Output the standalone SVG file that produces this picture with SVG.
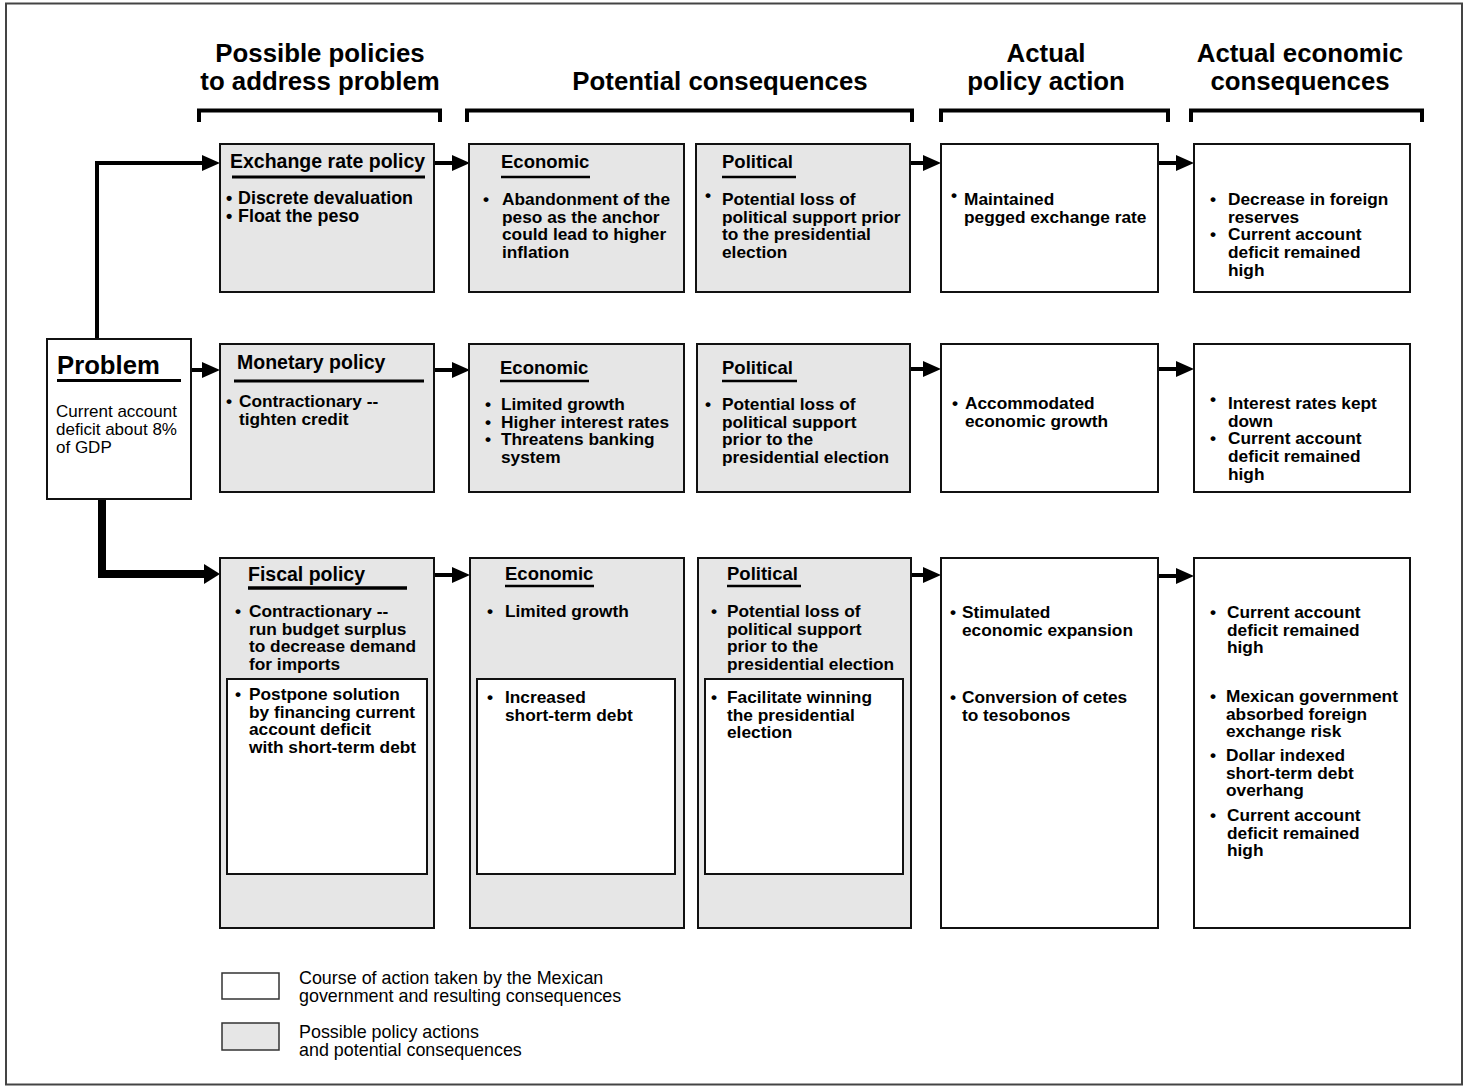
<svg xmlns="http://www.w3.org/2000/svg" width="1468" height="1089" viewBox="0 0 1468 1089">
<style>
text{font-family:"Liberation Sans",Arial,Helvetica,sans-serif;fill:#000}
.hdr{font-size:25.8px;font-weight:bold;text-anchor:middle}
.ttl{font-size:19.5px;font-weight:bold}
.sub{font-size:18.5px;font-weight:bold}
.b{font-size:17.3px;font-weight:bold}
.bx{font-size:17.9px;font-weight:bold}
.r{font-size:17px}
.lg{font-size:17.9px}
.prob{font-size:25.7px;font-weight:bold}
.g{fill:#e6e6e6;stroke:#111;stroke-width:2}
.w{fill:#fff;stroke:#111;stroke-width:2}
.ul{stroke:#000;stroke-width:2.5}
.br{fill:none;stroke:#000;stroke-width:4}
.cn{fill:none;stroke:#000;stroke-width:4}
.ah{fill:#000}
</style>
<rect x="6" y="3.5" width="1456" height="1081" fill="#fff" stroke="#444" stroke-width="2"/>

<g id="headers">
<text class="hdr" x="320" y="62">Possible policies</text>
<text class="hdr" x="320" y="90">to address problem</text>
<text class="hdr" x="720" y="90">Potential consequences</text>
<text class="hdr" x="1046" y="62">Actual</text>
<text class="hdr" x="1046" y="90">policy action</text>
<text class="hdr" x="1300" y="62">Actual economic</text>
<text class="hdr" x="1300" y="90">consequences</text>
<path class="br" d="M199 122V110.5H440V122"/>
<path class="br" d="M467 122V110.5H912V122"/>
<path class="br" d="M941 122V110.5H1168V122"/>
<path class="br" d="M1191 122V110.5H1422V122"/>
</g>

<g id="connectors">
<path class="cn" d="M97 339V163H206"/>
<polygon class="ah" points="202,155 220,163 202,171"/>
<line class="cn" x1="434" y1="163" x2="456" y2="163"/>
<polygon class="ah" points="452,155 470,163 452,171"/>
<line class="cn" x1="909" y1="163" x2="927" y2="163"/>
<polygon class="ah" points="923,155 941,163 923,171"/>
<line class="cn" x1="1158" y1="163" x2="1180" y2="163"/>
<polygon class="ah" points="1176,155 1194,163 1176,171"/>

<line class="cn" x1="191" y1="370" x2="206" y2="370"/>
<polygon class="ah" points="202,362 220,370 202,378"/>
<line class="cn" x1="434" y1="370" x2="456" y2="370"/>
<polygon class="ah" points="452,362 470,370 452,378"/>
<line class="cn" x1="910" y1="369" x2="927" y2="369"/>
<polygon class="ah" points="923,361 941,369 923,377"/>
<line class="cn" x1="1158" y1="369" x2="1180" y2="369"/>
<polygon class="ah" points="1176,361 1194,369 1176,377"/>

<path fill="none" stroke="#000" stroke-width="8" d="M102 499V574H208"/>
<polygon class="ah" points="204,564 220,574 204,584"/>
<line class="cn" x1="434" y1="575" x2="456" y2="575"/>
<polygon class="ah" points="452,567 470,575 452,583"/>
<line class="cn" x1="911" y1="575" x2="927" y2="575"/>
<polygon class="ah" points="923,567 941,575 923,583"/>
<line class="cn" x1="1158" y1="576" x2="1180" y2="576"/>
<polygon class="ah" points="1176,568 1194,576 1176,584"/>
</g>

<g id="problem">
<rect class="w" x="47" y="339" width="144" height="160"/>
<text class="prob" x="57" y="374">Problem</text>
<line x1="57" y1="380.5" x2="181" y2="380.5" stroke="#000" stroke-width="3"/>
<text class="r" x="56" y="417">Current account</text>
<text class="r" x="56" y="435">deficit about 8%</text>
<text class="r" x="56" y="453">of GDP</text>
</g>

<g id="exchange-rate-policy">
<rect class="g" x="220" y="144" width="214" height="148"/>
<text class="ttl" x="230" y="168">Exchange rate policy</text>
<line x1="232" y1="177" x2="425" y2="177" stroke="#000" stroke-width="3"/>
<text class="bx" x="226" y="203.5">•</text><text class="bx" x="238" y="203.5">Discrete devaluation</text>
<text class="bx" x="226" y="221.5">•</text><text class="bx" x="238" y="221.5">Float the peso</text>
</g>

<g id="econ-1">
<rect class="g" x="469" y="144" width="215" height="148"/>
<text class="sub" x="501" y="168">Economic</text>
<line class="ul" x1="501" y1="177" x2="590" y2="177"/>
<text class="b" x="483" y="205">•</text>
<text class="b" x="502" y="205">Abandonment of the</text>
<text class="b" x="502" y="222.7">peso as the anchor</text>
<text class="b" x="502" y="240.4">could lead to higher</text>
<text class="b" x="502" y="258">inflation</text>
</g>

<g id="pol-1">
<rect class="g" x="696" y="144" width="214" height="148"/>
<text class="sub" x="722" y="168">Political</text>
<line class="ul" x1="722" y1="177" x2="796" y2="177"/>
<text class="b" x="705" y="201">•</text>
<text class="b" x="722" y="205">Potential loss of</text>
<text class="b" x="722" y="222.7">political support prior</text>
<text class="b" x="722" y="240.4">to the presidential</text>
<text class="b" x="722" y="258">election</text>
</g>

<g id="action-1">
<rect class="w" x="941" y="144" width="217" height="148"/>
<text class="b" x="951" y="201">•</text>
<text class="b" x="964" y="205">Maintained</text>
<text class="b" x="964" y="222.7">pegged exchange rate</text>
</g>

<g id="cons-1">
<rect class="w" x="1194" y="144" width="216" height="148"/>
<text class="b" x="1210" y="205">•</text>
<text class="b" x="1228" y="205">Decrease in foreign</text>
<text class="b" x="1228" y="222.7">reserves</text>
<text class="b" x="1210" y="240.4">•</text>
<text class="b" x="1228" y="240.4">Current account</text>
<text class="b" x="1228" y="258">deficit remained</text>
<text class="b" x="1228" y="275.7">high</text>
</g>

<g id="monetary-policy">
<rect class="g" x="220" y="344" width="214" height="148"/>
<text class="ttl" x="237" y="369">Monetary policy</text>
<line x1="234" y1="381" x2="424" y2="381" stroke="#000" stroke-width="3"/>
<text class="b" x="226" y="407">•</text>
<text class="b" x="239" y="407">Contractionary --</text>
<text class="b" x="239" y="424.7">tighten credit</text>
</g>

<g id="econ-2">
<rect class="g" x="469" y="344" width="215" height="148"/>
<text class="sub" x="500" y="374">Economic</text>
<line class="ul" x1="500" y1="381" x2="589" y2="381"/>
<text class="b" x="485" y="410">•</text><text class="b" x="501" y="410">Limited growth</text>
<text class="b" x="485" y="427.7">•</text><text class="b" x="501" y="427.7">Higher interest rates</text>
<text class="b" x="485" y="445.4">•</text><text class="b" x="501" y="445.4">Threatens banking</text>
<text class="b" x="501" y="463">system</text>
</g>

<g id="pol-2">
<rect class="g" x="697" y="344" width="213" height="148"/>
<text class="sub" x="722" y="374">Political</text>
<line class="ul" x1="722" y1="381" x2="797" y2="381"/>
<text class="b" x="705" y="410">•</text><text class="b" x="722" y="410">Potential loss of</text>
<text class="b" x="722" y="427.7">political support</text>
<text class="b" x="722" y="445.4">prior to the</text>
<text class="b" x="722" y="463">presidential election</text>
</g>

<g id="action-2">
<rect class="w" x="941" y="344" width="217" height="148"/>
<text class="b" x="952" y="409">•</text>
<text class="b" x="965" y="409">Accommodated</text>
<text class="b" x="965" y="426.7">economic growth</text>
</g>

<g id="cons-2">
<rect class="w" x="1194" y="344" width="216" height="148"/>
<text class="b" x="1210" y="405">•</text>
<text class="b" x="1228" y="409">Interest rates kept</text>
<text class="b" x="1228" y="426.7">down</text>
<text class="b" x="1210" y="444.4">•</text>
<text class="b" x="1228" y="444.4">Current account</text>
<text class="b" x="1228" y="462">deficit remained</text>
<text class="b" x="1228" y="479.7">high</text>
</g>

<g id="fiscal-policy">
<rect class="g" x="220" y="558" width="214" height="370"/>
<text class="ttl" x="248" y="581">Fiscal policy</text>
<line x1="248" y1="588" x2="407" y2="588" stroke="#000" stroke-width="3.5"/>
<text class="b" x="235" y="617">•</text>
<text class="b" x="249" y="617">Contractionary --</text>
<text class="b" x="249" y="634.7">run budget surplus</text>
<text class="b" x="249" y="652.4">to decrease demand</text>
<text class="b" x="249" y="670">for imports</text>
<rect class="w" x="227" y="679" width="200" height="195"/>
<text class="b" x="235" y="700">•</text>
<text class="b" x="249" y="700">Postpone solution</text>
<text class="b" x="249" y="717.7">by financing current</text>
<text class="b" x="249" y="735.4">account deficit</text>
<text class="b" x="249" y="753">with short-term debt</text>
</g>

<g id="econ-3">
<rect class="g" x="470" y="558" width="214" height="370"/>
<text class="sub" x="505" y="580">Economic</text>
<line class="ul" x1="505" y1="586" x2="594" y2="586"/>
<text class="b" x="487" y="617">•</text>
<text class="b" x="505" y="617">Limited growth</text>
<rect class="w" x="477" y="679" width="198" height="195"/>
<text class="b" x="487" y="703">•</text>
<text class="b" x="505" y="703">Increased</text>
<text class="b" x="505" y="720.7">short-term debt</text>
</g>

<g id="pol-3">
<rect class="g" x="698" y="558" width="213" height="370"/>
<text class="sub" x="727" y="580">Political</text>
<line class="ul" x1="727" y1="586" x2="801" y2="586"/>
<text class="b" x="711" y="617">•</text>
<text class="b" x="727" y="617">Potential loss of</text>
<text class="b" x="727" y="634.7">political support</text>
<text class="b" x="727" y="652.4">prior to the</text>
<text class="b" x="727" y="670">presidential election</text>
<rect class="w" x="705" y="679" width="198" height="195"/>
<text class="b" x="711" y="703">•</text>
<text class="b" x="727" y="703">Facilitate winning</text>
<text class="b" x="727" y="720.7">the presidential</text>
<text class="b" x="727" y="738.4">election</text>
</g>

<g id="action-3">
<rect class="w" x="941" y="558" width="217" height="370"/>
<text class="b" x="950" y="618">•</text>
<text class="b" x="962" y="618">Stimulated</text>
<text class="b" x="962" y="635.7">economic expansion</text>
<text class="b" x="950" y="703">•</text>
<text class="b" x="962" y="703">Conversion of cetes</text>
<text class="b" x="962" y="720.7">to tesobonos</text>
</g>

<g id="cons-3">
<rect class="w" x="1194" y="558" width="216" height="370"/>
<text class="b" x="1210" y="618">•</text>
<text class="b" x="1227" y="618">Current account</text>
<text class="b" x="1227" y="635.7">deficit remained</text>
<text class="b" x="1227" y="653.4">high</text>
<text class="b" x="1210" y="702">•</text>
<text class="b" x="1226" y="702">Mexican government</text>
<text class="b" x="1226" y="719.7">absorbed foreign</text>
<text class="b" x="1226" y="737.4">exchange risk</text>
<text class="b" x="1210" y="761">•</text>
<text class="b" x="1226" y="761">Dollar indexed</text>
<text class="b" x="1226" y="778.7">short-term debt</text>
<text class="b" x="1226" y="796.4">overhang</text>
<text class="b" x="1210" y="821">•</text>
<text class="b" x="1227" y="821">Current account</text>
<text class="b" x="1227" y="838.7">deficit remained</text>
<text class="b" x="1227" y="856.4">high</text>
</g>

<g id="legend">
<rect x="222" y="973" width="57" height="26" fill="#fff" stroke="#333" stroke-width="1.5"/>
<text class="lg" x="299" y="984">Course of action taken by the Mexican</text>
<text class="lg" x="299" y="1002">government and resulting consequences</text>
<rect x="222" y="1023" width="57" height="27" fill="#e6e6e6" stroke="#333" stroke-width="1.5"/>
<text class="lg" x="299" y="1038">Possible policy actions</text>
<text class="lg" x="299" y="1056">and potential consequences</text>
</g>
</svg>
